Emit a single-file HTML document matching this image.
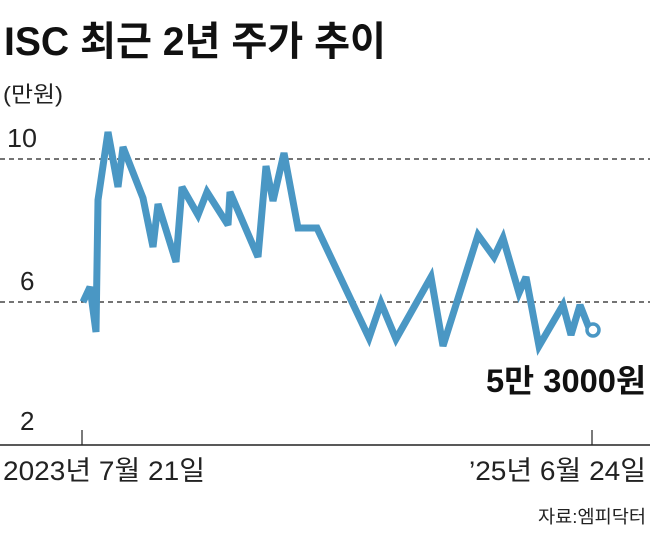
<!DOCTYPE html>
<html><head><meta charset="utf-8"><style>
body{margin:0;background:#fff;}
svg text{font-family:"Liberation Sans","Noto Sans CJK KR",sans-serif;}
</style></head><body>
<svg width="650" height="532" viewBox="0 0 650 532" xmlns="http://www.w3.org/2000/svg">
<rect width="650" height="532" fill="#fff"/>
<text x="4" y="55" font-size="40" font-weight="bold" fill="#111" textLength="382" lengthAdjust="spacingAndGlyphs">ISC 최근 2년 주가 추이</text>
<text x="3" y="102" font-size="22" fill="#222" textLength="60" lengthAdjust="spacingAndGlyphs">(만원)</text>
<text x="7" y="147" font-size="26" fill="#222" textLength="30" lengthAdjust="spacingAndGlyphs">10</text>
<text x="20" y="290" font-size="26" fill="#222">6</text>
<text x="20" y="430" font-size="26" fill="#222">2</text>
<line x1="0" y1="159" x2="650" y2="159" stroke="#222" stroke-width="1.2" stroke-dasharray="5,4"/>
<line x1="0" y1="302" x2="650" y2="302" stroke="#222" stroke-width="1.2" stroke-dasharray="5,4"/>
<line x1="0" y1="445" x2="650" y2="445" stroke="#222" stroke-width="1.5"/>
<line x1="82" y1="430" x2="82" y2="445" stroke="#222" stroke-width="1.2"/>
<line x1="592" y1="430" x2="592" y2="445" stroke="#222" stroke-width="1.2"/>
<polyline fill="none" stroke="#4a97c4" stroke-width="7" stroke-linejoin="miter" stroke-miterlimit="3" points="83,302 90,287 96,332 98,200 108,132 118,187 123,147 143,198 153,247 158,204 176,262 182,187 198,215 207,192 228,225 230,192 258,257 266,166 273,201 284,153 298,228 317,228 369,338 381,303 396,339 431,277 443,346 478,235 494,257 503,238 519,293 526,277 539,346 563,305 571,335 580,305 589,328"/>
<circle cx="593" cy="330" r="6" fill="#fff" stroke="#4a97c4" stroke-width="3.5"/>
<text x="486" y="392" font-size="32" font-weight="bold" fill="#111" textLength="160" lengthAdjust="spacingAndGlyphs">5만 3000원</text>
<text x="3" y="480" font-size="27" fill="#222" textLength="202" lengthAdjust="spacingAndGlyphs">2023년 7월 21일</text>
<text x="469" y="480" font-size="27" fill="#222" textLength="177" lengthAdjust="spacingAndGlyphs">’25년 6월 24일</text>
<text x="538" y="523" font-size="18" fill="#222" textLength="108" lengthAdjust="spacingAndGlyphs">자료:엠피닥터</text>
</svg>
</body></html>
